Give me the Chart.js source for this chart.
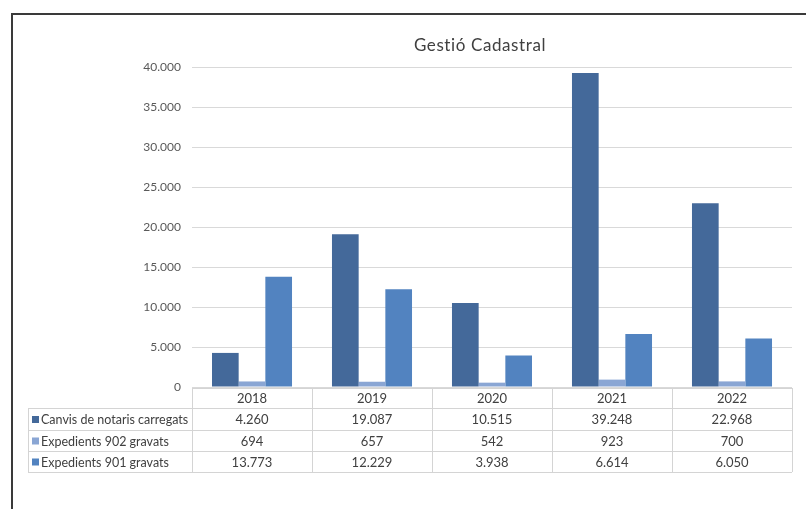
<!DOCTYPE html>
<html>
<head>
<meta charset="utf-8">
<title>Gestió Cadastral</title>
<script src="https://cdn.jsdelivr.net/npm/chart.js@4"></script>
<style>
  html, body { margin: 0; padding: 0; background: #fff; }
  #wrap { width: 806px; height: 509px; position: relative; }
</style>
</head>
<body>
<div id="wrap"><canvas id="cadastreChart" width="806" height="509"></canvas></div>
<script>
const anys = ['2018', '2019', '2020', '2021', '2022'];
const canvisNotaris = [4260, 19087, 10515, 39248, 22968];
const expedients902 = [694, 657, 542, 923, 700];
const expedients901 = [13773, 12229, 3938, 6614, 6050];

const titol = 'Gestió Cadastral';
const noms = ['Canvis de notaris carregats', 'Expedients 902 gravats', 'Expedients 901 gravats'];
const colors = ['#44699a', '#8aa6d4', '#5283c0'];

const FONT = 'Lato, "Open Sans", sans-serif';

function formatNum(v) {
    return String(v).replace(/\B(?=(\d{3})+(?!\d))/g, '.');
}

// marc exterior i títol
const marcPlugin = {
    id: 'marc',
    afterDraw(chart) {
        const ctx = chart.ctx;
        ctx.save();
        ctx.strokeStyle = '#3a3a3a';
        ctx.lineWidth = 2;
        ctx.beginPath();
        ctx.moveTo(12, 509);
        ctx.lineTo(12, 14);
        ctx.lineTo(806, 14);
        ctx.stroke();

        ctx.fillStyle = '#404040';
        ctx.font = '17px ' + FONT;
        ctx.letterSpacing = '0.6px';
        ctx.textAlign = 'center';
        ctx.textBaseline = 'middle';
        ctx.fillText(titol, 480, 46);
        ctx.restore();
    }
};

// taula de dades sota l'eix
const taulaPlugin = {
    id: 'taula',
    afterDraw(chart) {
        const ctx = chart.ctx;
        const x = chart.scales.x;
        const area = chart.chartArea;
        const files = [canvisNotaris, expedients902, expedients901];
        const top = area.bottom + 1;
        const rowY = [top, top + 20, top + 42, top + 63, top + 84];
        const left = 28;
        const half = (x.getPixelForTick(1) - x.getPixelForTick(0)) / 2;

        ctx.save();
        ctx.strokeStyle = '#d4d4d4';
        ctx.lineWidth = 1;
        ctx.beginPath();
        // línies horitzontals
        ctx.moveTo(area.left, rowY[0] + 0.5);
        ctx.lineTo(area.right, rowY[0] + 0.5);
        for (let r = 1; r < rowY.length; r++) {
            ctx.moveTo(left, rowY[r] + 0.5);
            ctx.lineTo(area.right, rowY[r] + 0.5);
        }
        // línies verticals
        ctx.moveTo(left + 0.5, rowY[1]);
        ctx.lineTo(left + 0.5, rowY[4]);
        for (let i = 0; i <= anys.length; i++) {
            const px = Math.round(i < anys.length ? x.getPixelForTick(i) - half : x.getPixelForTick(i - 1) + half) + 0.5;
            ctx.moveTo(px, rowY[0]);
            ctx.lineTo(px, rowY[4]);
        }
        ctx.stroke();

        ctx.fillStyle = '#404040';
        ctx.font = '13px ' + FONT;
        ctx.textAlign = 'center';
        ctx.textBaseline = 'middle';
        anys.forEach((a, i) => {
            ctx.fillText(a, x.getPixelForTick(i), (rowY[0] + rowY[1]) / 2 + 1);
        });
        files.forEach((fila, r) => {
            const cy = (rowY[r + 1] + rowY[r + 2]) / 2 + 1;
            ctx.font = '13px ' + FONT;
            fila.forEach((v, i) => {
                ctx.fillText(formatNum(v), x.getPixelForTick(i), cy);
            });
            ctx.fillStyle = colors[r];
            ctx.fillRect(32, cy - 4, 7, 7);
            ctx.fillStyle = '#404040';
            ctx.font = '12.5px ' + FONT;
            ctx.textAlign = 'left';
            ctx.fillText(noms[r], 41, cy);
            ctx.textAlign = 'center';
        });
        ctx.restore();
    }
};

const ctx = document.getElementById('cadastreChart').getContext('2d');
new Chart(ctx, {
    type: 'bar',
    data: {
        labels: anys,
        datasets: [
            { label: noms[0], data: canvisNotaris, backgroundColor: colors[0] },
            { label: noms[1], data: expedients902, backgroundColor: colors[1] },
            { label: noms[2], data: expedients901, backgroundColor: colors[2] }
        ]
    },
    options: {
        responsive: false,
        animation: false,
        layout: { padding: { left: 0, right: 14, top: 67, bottom: 122 } },
        datasets: {
            bar: { categoryPercentage: 0.667, barPercentage: 1.0 }
        },
        scales: {
            x: {
                display: false
            },
            y: {
                min: 0,
                max: 40000,
                afterFit(scale) { scale.width = 192; },
                ticks: {
                    stepSize: 5000,
                    padding: 11,
                    color: '#595959',
                    font: { family: FONT, size: 12 },
                    callback: v => formatNum(v)
                },
                grid: { color: '#d9d9d9', drawTicks: false },
                border: { display: false }
            }
        },
        plugins: {
            legend: { display: false },
            tooltip: { enabled: false },
            title: { display: false }
        }
    },
    plugins: [marcPlugin, taulaPlugin]
});
</script>
</body>
</html>
